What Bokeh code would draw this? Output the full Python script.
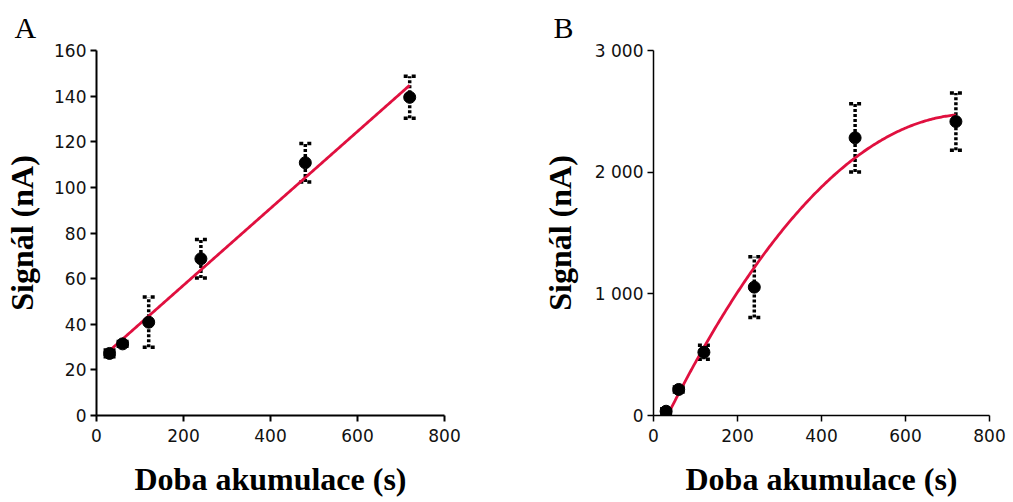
import numpy as np
from bokeh.plotting import figure
from bokeh.layouts import row
from bokeh.models import (ColumnDataSource, Range1d, FixedTicker, Whisker, TeeHead)
from bokeh.embed import file_html
from bokeh.resources import INLINE

# ---- data ----
time_s = [30, 60, 120, 240, 480, 720]

signal_a = [27.2, 31.4, 40.9, 68.7, 110.8, 139.5]
err_a = [1.5, 1.0, 11.0, 8.4, 8.4, 9.2]

signal_b = [35, 214, 520, 1055, 2282, 2416]
err_b = [20, 20, 58, 250, 280, 235]

x_ticks = [0, 200, 400, 600, 800]
y_ticks_a = [0, 20, 40, 60, 80, 100, 120, 140, 160]
y_ticks_b = [0, 1000, 2000, 3000]
y_labels_b = {0: "0", 1000: "1 000", 2000: "2 000", 3000: "3 000"}

x_title = "Doba akumulace (s)"
y_title = "Signál (nA)"

RED = "#E0103F"
TICK_FONT = "DejaVu Sans"
LABEL_FONT = "Liberation Serif"


def make_panel(width, left, right, ymax, yticks, sig, err, deg, letter, letter_x,
               axis_w, ylab_standoff, overrides=None):
    p = figure(width=width, height=502, output_backend="svg", toolbar_location=None,
               x_range=Range1d(0, 800), y_range=Range1d(0, ymax),
               min_border_left=left, min_border_right=right,
               min_border_top=50, min_border_bottom=87)
    p.outline_line_color = None
    p.grid.visible = False
    p.background_fill_color = "white"
    p.border_fill_color = "white"

    p.title.text = letter
    p.title.align = "left"
    p.title.vertical_align = "top"
    p.title.offset = letter_x - left
    p.title.standoff = 10
    p.title.text_font = LABEL_FONT
    p.title.text_font_style = "normal"
    p.title.text_font_size = "30px"
    p.title.text_color = "black"

    p.xaxis.ticker = FixedTicker(ticks=x_ticks)
    p.yaxis.ticker = FixedTicker(ticks=yticks)
    if overrides:
        p.yaxis.major_label_overrides = overrides
    for ax in (p.xaxis, p.yaxis):
        ax.axis_line_width = axis_w
        ax.axis_line_color = "black"
        ax.major_tick_line_width = axis_w
        ax.major_tick_line_color = "black"
        ax.major_tick_in = 0
        ax.major_tick_out = 6
        ax.minor_tick_line_color = None
        ax.major_label_text_font = TICK_FONT
        ax.major_label_text_font_size = "17px"
        ax.major_label_text_color = "#111111"
        ax.axis_label_text_font = LABEL_FONT
        ax.axis_label_text_font_style = "bold"
        ax.axis_label_text_font_size = "32px"
        ax.axis_label_text_color = "black"
    p.xaxis.major_label_standoff = 7
    p.yaxis.major_label_standoff = 4
    p.xaxis.axis_label = x_title
    p.yaxis.axis_label = y_title
    p.xaxis.axis_label_standoff = 16
    p.yaxis.axis_label_standoff = ylab_standoff

    # trend line (least-squares fit of the data, as in the original spreadsheet)
    coef = np.polyfit(time_s, sig, deg)
    xs = np.linspace(min(time_s), max(time_s), 200)
    p.line(xs, np.polyval(coef, xs), line_color=RED, line_width=2.8)

    upper = [s + e for s, e in zip(sig, err)]
    lower = [s - e for s, e in zip(sig, err)]
    src = ColumnDataSource(dict(x=time_s, y=sig, upper=upper, lower=lower))
    w = Whisker(base="x", upper="upper", lower="lower", source=src,
                line_color="black", line_width=3.5, line_dash="3 2",
                upper_head=TeeHead(size=12, line_width=3.5, line_color="black", line_dash="4 4"),
                lower_head=TeeHead(size=12, line_width=3.5, line_color="black", line_dash="4 4"))
    p.add_layout(w)
    p.scatter("x", "y", source=src, size=12, color="black")
    return p


pa = make_panel(506, 96, 62, 160, y_ticks_a, signal_a, err_a, 1, "A", 14, 2, 11)
pb = make_panel(507, 147, 24, 3000, y_ticks_b, signal_b, err_b, 2, "B", 47, 1.5, 14, y_labels_b)

layout = row(pa, pb)
open("out.html", "w").write(file_html(layout, INLINE))
